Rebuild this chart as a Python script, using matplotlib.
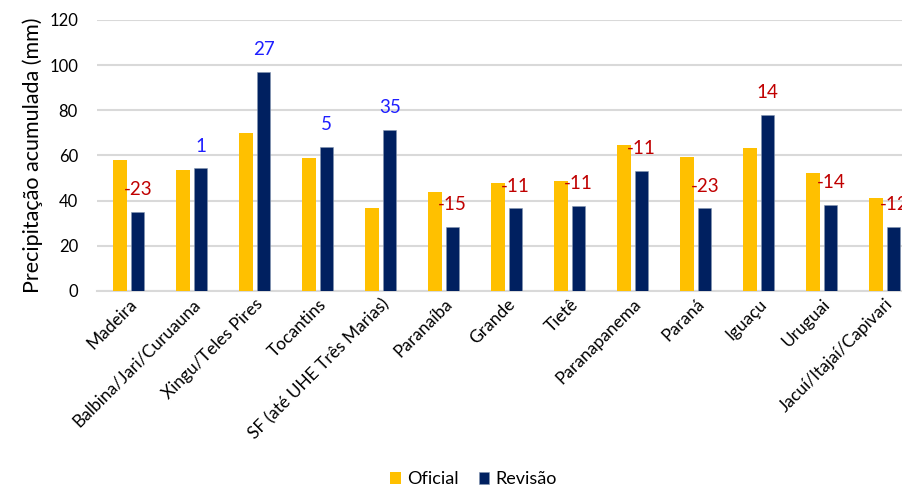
import numpy as np
import matplotlib
matplotlib.use("Agg")
import matplotlib.pyplot as plt

plt.rcParams["font.family"] = ["Lato", "DejaVu Sans"]

# ── Data ─────────────────────────────────────────────────────────────────────
bacias = ["Madeira", "Balbina/Jari/Curuauna", "Xingu/Teles Pires", "Tocantins",
          "SF (até UHE Três Marias)", "Paranaíba", "Grande", "Tietê",
          "Paranapanema", "Paraná", "Iguaçu", "Uruguai", "Jacuí/Itajaí/Capivari"]
oficial = [58.0, 53.6, 69.8, 58.8, 36.6, 44.0, 47.7, 48.6, 64.5, 59.5, 63.2, 52.1, 41.0]
revisao = [35.1, 54.3, 97.0, 63.9, 71.3, 28.5, 36.6, 37.8, 53.3, 36.6, 77.9, 38.1, 28.5]
diferenca = [-23, 1, 27, 5, 35, -15, -11, -11, -11, -23, 14, -14, -12]
cor_rotulo = ["#C00000", "#1F1FFF", "#1F1FFF", "#1F1FFF", "#1F1FFF", "#C00000", "#C00000",
              "#C00000", "#C00000", "#C00000", "#C00000", "#C00000", "#C00000"]

# ── Chart ────────────────────────────────────────────────────────────────────
fig = plt.figure(figsize=(9.02, 4.87), dpi=100)
ax = fig.add_axes([0.108, 0.4025, 0.908, 0.5565])

x = np.arange(len(bacias))
w = 0.21
ax.bar(x - 0.14, oficial, width=w, color="#FFC000", label="Oficial", zorder=3)
ax.bar(x + 0.14, revisao, width=w, color="#002060", label="Revisão", zorder=3,
       edgecolor="#8496B0", linewidth=0.4)

# difference labels above the revised bars
for xi, rv, d, c in zip(x, revisao, diferenca, cor_rotulo):
    ax.annotate(f"{d}", (xi + 0.14, rv), xytext=(0, 16), textcoords="offset points",
                ha="center", va="center", fontsize=13.5, color=c, annotation_clip=False)

ax.set_xlim(-0.5, len(bacias) - 0.5)
ax.set_ylim(0, 120)
ax.set_yticks(range(0, 121, 20))
ax.grid(axis="y", color="#D9D9D9", linewidth=1.5, zorder=0)
ax.set_axisbelow(True)
for s in ["top", "right", "left"]:
    ax.spines[s].set_visible(False)
ax.spines["bottom"].set_color("#D9D9D9")
ax.spines["bottom"].set_linewidth(1.5)
ax.tick_params(axis="both", length=0, colors="#000000")
ax.tick_params(axis="y", pad=14, labelsize=12)

ax.set_xticks(x)
ax.set_xticklabels(bacias, rotation=45, ha="right", rotation_mode="anchor", fontsize=12.5)
ax.set_ylabel("Precipitação acumulada (mm)", fontsize=15.5)
ax.yaxis.set_label_coords(-0.066, 0.5)

fig.legend(loc="lower center", bbox_to_anchor=(0.525, -0.034), ncol=2, frameon=False,
           fontsize=13, handlelength=0.6, handleheight=0.6, handletextpad=0.35,
           columnspacing=1.1)

fig.savefig("out.png", dpi=100)
